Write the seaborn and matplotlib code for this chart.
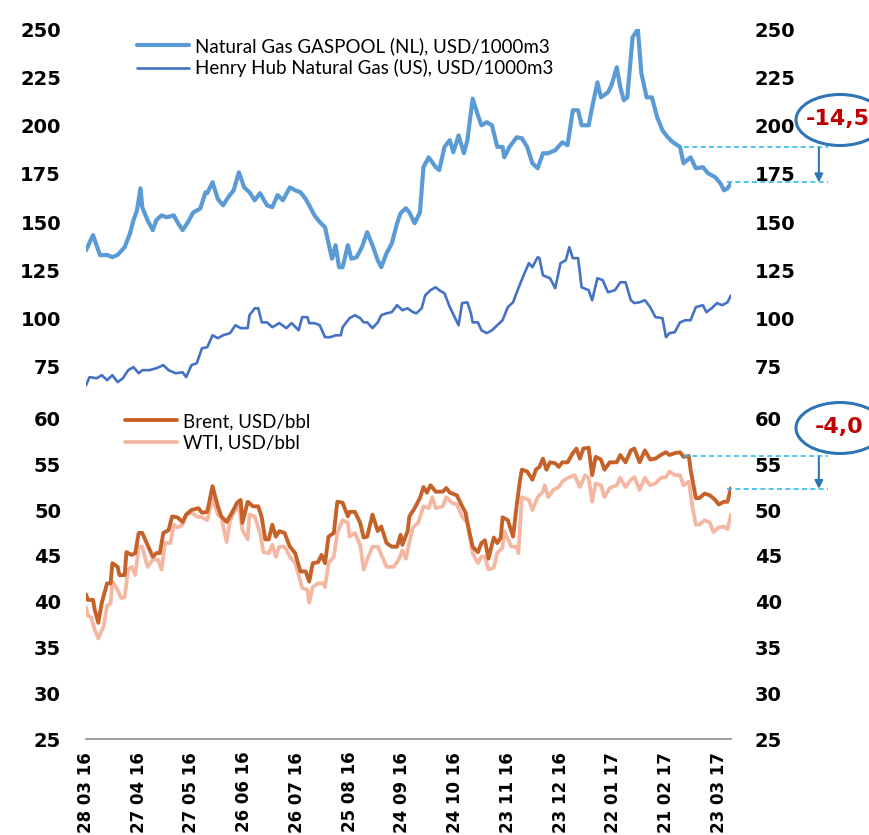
import numpy as np
import pandas as pd
import matplotlib
matplotlib.use("Agg")
import matplotlib.pyplot as plt
import matplotlib.dates as mdates
from matplotlib.patches import Ellipse
import seaborn as sns

# ---------------- data (days since 28 Mar 2016, values) ----------------
START = "2016-03-28"

gaspool_day = [0, 4, 6, 8, 12, 15, 18, 22, 25, 27, 29, 31, 32, 35, 38, 40, 43, 46, 50, 52, 55, 58, 61, 65, 68, 69,
               72, 75, 78, 81, 84, 87, 90, 93, 96, 99, 103, 106, 109, 112, 116, 119, 122, 125, 127, 130, 133, 136,
               138, 140, 142, 144, 146, 149, 151, 154, 157, 160, 163, 166, 168, 171, 174, 177, 179, 182, 184, 187,
               190, 192, 195, 199, 201, 204, 207, 209, 212, 215, 217, 220, 223, 225, 228, 231, 234, 237, 238, 241,
               245, 248, 251, 254, 257, 260, 263, 267, 271, 274, 277, 280, 282, 286, 288, 291, 293, 297, 299, 302,
               304, 306, 308, 311, 314, 316, 319, 322, 325, 328, 331, 334, 338, 340, 344, 347, 351, 354, 358, 361,
               363, 365, 367]
gaspool_val = [135.4, 143.2, 138, 132.8, 133, 131.8, 133, 137, 144, 151, 156, 167.5, 157.7, 151, 145.8, 151, 153.5,
               152.5, 153.5, 150, 145.8, 150, 155, 157, 165.5, 165, 170.7, 162, 158.7, 163, 166.5, 175.8, 168, 165.5,
               161.3, 165, 158.7, 157.7, 164, 161.3, 168, 166.5, 165.5, 162, 158.7, 153.5, 150, 147.3, 139, 131, 138,
               126.6, 126.6, 138, 131, 131.8, 137, 144.8, 138, 130.2, 126.6, 133.8, 139, 149.4, 154.6, 157.2, 155,
               149.4, 155, 178.5, 183.6, 178.5, 177, 189, 192.5, 186.2, 195, 185.7, 192.5, 214, 205.4, 200.2, 201.8,
               200.2, 189, 189, 183.6, 189, 194, 193.5, 189, 180.5, 177.9, 185.7, 185.7, 187.3, 191.4, 189.9, 208, 208,
               200.2, 200.2, 209.6, 222.5, 214.7, 217.3, 221, 230.3, 220, 213.2, 214.7, 245.9, 250, 227.2, 214.7,
               214.7, 204.4, 197.6, 194, 191.4, 189, 180.5, 183.6, 177.9, 178.5, 175.3, 173.3, 170.1, 166.5, 167.5,
               170.1]

henry_day = [0, 2, 6, 9, 12, 15, 18, 21, 24, 27, 30, 32, 36, 40, 44, 47, 51, 55, 57, 60, 63, 66, 69, 72, 75, 78, 82,
             85, 88, 92, 93, 96, 98, 100, 103, 106, 110, 114, 117, 121, 123, 126, 127, 130, 133, 136, 139, 142, 145,
             146, 150, 153, 156, 158, 160, 163, 166, 168, 171, 174, 177, 180, 183, 186, 188, 191, 193, 196, 199, 201,
             204, 207, 210, 212, 214, 217, 219, 220, 223, 225, 228, 231, 234, 237, 240, 243, 246, 249, 252, 254, 257,
             258, 260, 264, 267, 270, 273, 275, 277, 280, 282, 286, 288, 291, 294, 297, 301, 304, 307, 310, 312, 315,
             318, 321, 324, 328, 330, 332, 335, 338, 341, 344, 347, 351, 353, 356, 359, 362, 365, 367]
henry_val = [65.4, 69.6, 69, 70.6, 68, 70.6, 67, 69, 73.2, 74.8, 71.6, 73.2, 73.2, 74.2, 75.8, 73.2, 71.6, 72.1, 69.6,
             75.8, 76.8, 84.6, 85.1, 91.3, 89.8, 91.3, 92.4, 96.5, 95, 95, 101.7, 105.3, 105.3, 98, 98, 95.5, 97.6, 95,
             97.6, 93.9, 100.7, 100.7, 97.6, 97.6, 96.5, 90.3, 90.3, 91.3, 91.3, 95.5, 100.2, 101.7, 100.2, 98, 98, 95,
             98, 101.7, 102.7, 103.3, 106.9, 104.3, 105.3, 103.3, 102.7, 105.3, 112, 114.7, 116.2, 114.7, 113, 105.9,
             100.2, 96.5, 108, 108.4, 102.7, 98, 98, 93.9, 92.4, 93.9, 96.5, 99.1, 105.9, 108.4, 115.7, 122.4, 128.7,
             126.6, 131.8, 131.3, 122.4, 120.9, 115.7, 128.7, 130.2, 137, 131.3, 131.3, 116.2, 114.7, 109.5, 120.9,
             119.9, 113.6, 114.7, 118.8, 118.8, 109.5, 108, 108.4, 109.5, 105.9, 100.7, 100.2, 90.3, 92.4, 92.9, 98,
             99.1, 99.1, 105.9, 106.9, 103.3, 105.3, 108, 106.9, 108.4, 112]

brent_day = [0, 1, 4, 5, 7, 9, 12, 14, 15, 18, 19, 22, 23, 26, 28, 30, 32, 35, 38, 40, 42, 44, 47, 49, 52, 55, 57, 60,
             64, 66, 69, 72, 75, 77, 80, 83, 86, 88, 89, 92, 95, 98, 100, 102, 104, 106, 108, 110, 113, 116, 119, 122,
             125, 127, 129, 132, 134, 136, 138, 141, 143, 146, 149, 150, 153, 156, 158, 160, 163, 166, 168, 171, 174,
             177, 179, 180, 183, 184, 187, 190, 192, 194, 196, 199, 203, 205, 207, 211, 213, 216, 217, 220, 223, 225,
             227, 229, 232, 234, 236, 237, 240, 243, 245, 247, 248, 251, 254, 256, 258, 260, 262, 264, 267, 269, 271,
             274, 277, 279, 281, 283, 286, 288, 290, 293, 295, 298, 302, 304, 307, 310, 312, 315, 318, 321, 324, 327,
             330, 332, 335, 338, 340, 343, 344, 347, 349, 352, 355, 358, 360, 363, 365, 367]
brent_val = [40.8, 40.2, 40.2, 39.1, 37.7, 39.9, 42.0, 42.0, 44.2, 43.8, 42.9, 42.9, 45.4, 45.1, 45.3, 47.5, 47.5, 46.2,
             44.9, 45.3, 45.3, 47.5, 47.8, 49.3, 49.2, 48.7, 49.5, 50.0, 50.2, 49.7, 49.8, 52.6, 50.4, 49.3, 48.7, 49.7,
             50.8, 51.1, 48.6, 50.9, 50.4, 50.4, 49.2, 46.8, 46.8, 48.4, 47.1, 47.7, 47.5, 46.0, 45.3, 43.3, 43.3, 42.2,
             44.2, 44.3, 45.1, 44.2, 47.1, 47.5, 50.9, 50.8, 49.3, 49.8, 49.8, 48.6, 47.0, 47.1, 49.5, 47.7, 48.2, 46.4,
             46.0, 46.0, 47.3, 46.2, 47.7, 49.3, 50.2, 51.3, 52.5, 51.9, 52.7, 52.0, 52.0, 52.4, 51.9, 51.6, 50.8, 49.7,
             48.6, 46.0, 45.4, 46.4, 46.7, 44.7, 47.0, 46.4, 47.0, 49.2, 48.9, 47.1, 50.4, 53.3, 54.4, 54.2, 53.3, 54.4,
             54.7, 55.6, 54.4, 55.2, 55.1, 54.7, 55.2, 55.2, 56.2, 56.7, 55.6, 56.7, 56.8, 53.8, 55.8, 55.5, 54.4, 55.2,
             55.2, 56.0, 55.2, 56.5, 56.7, 55.2, 56.5, 55.5, 55.6, 56.0, 56.3, 56.0, 56.2, 56.3, 55.8, 55.9, 54.4, 51.3,
             51.3, 51.8, 51.6, 51.1, 50.6, 50.9, 50.9, 52.4]

wti_day = [0, 1, 3, 5, 7, 10, 12, 14, 15, 18, 20, 22, 24, 26, 28, 30, 32, 35, 38, 41, 43, 45, 48, 50, 52, 55, 57, 60, 63,
           66, 69, 72, 75, 77, 80, 82, 85, 87, 89, 92, 93, 96, 99, 101, 104, 106, 108, 110, 113, 116, 119, 121, 123,
           126, 127, 129, 132, 135, 136, 138, 141, 143, 146, 149, 150, 153, 156, 158, 160, 163, 166, 169, 171, 175,
           178, 180, 182, 183, 186, 189, 192, 195, 197, 199, 203, 205, 208, 211, 214, 217, 220, 223, 225, 227, 229,
           232, 234, 237, 238, 242, 245, 246, 248, 252, 254, 257, 260, 261, 263, 266, 269, 271, 274, 278, 281, 284,
           286, 288, 290, 293, 295, 298, 302, 304, 307, 310, 312, 315, 318, 321, 324, 327, 330, 332, 335, 338, 340,
           343, 345, 347, 349, 352, 355, 357, 360, 363, 365, 367]
wti_val = [39.4, 38.5, 38.3, 36.9, 36.0, 37.3, 39.6, 39.8, 42.2, 41.3, 40.4, 40.5, 43.5, 43.8, 42.9, 46.0, 46.0, 43.8,
           44.6, 44.6, 43.5, 46.4, 46.4, 48.4, 48.1, 48.4, 49.5, 49.7, 49.3, 49.2, 48.9, 51.3, 49.5, 49.2, 46.5, 48.9,
           50.0, 50.4, 47.8, 46.8, 49.5, 49.3, 47.5, 45.4, 45.3, 46.2, 44.9, 46.0, 46.0, 44.9, 44.2, 42.9, 41.5, 41.3,
           39.9, 41.6, 42.0, 42.0, 41.6, 44.2, 44.9, 47.5, 48.9, 48.6, 47.1, 47.5, 46.2, 43.5, 44.6, 46.0, 46.0, 44.7,
           43.8, 43.8, 44.6, 45.6, 44.7, 45.6, 48.1, 48.6, 50.4, 50.2, 51.4, 50.2, 50.4, 51.4, 50.8, 50.6, 49.3, 48.6,
           45.3, 44.2, 44.9, 44.9, 43.5, 43.7, 45.3, 45.9, 47.7, 46.0, 46.0, 45.3, 51.4, 51.1, 50.0, 51.4, 52.0, 52.7,
           51.4, 52.2, 52.5, 53.1, 53.5, 53.8, 52.5, 53.8, 53.5, 50.9, 52.9, 52.7, 51.4, 52.4, 52.7, 53.5, 52.5, 53.3,
           53.6, 52.2, 53.5, 52.7, 52.9, 53.5, 53.6, 54.2, 53.8, 53.8, 52.7, 53.1, 50.4, 48.4, 48.4, 48.9, 48.6, 47.6,
           48.1, 48.2, 47.9, 49.5]

gas_labels = ["Natural Gas GASPOOL (NL), USD/1000m3", "Henry Hub Natural Gas (US), USD/1000m3"]
oil_labels = ["Brent, USD/bbl", "WTI, USD/bbl"]
gas_ticks = [75, 100, 125, 150, 175, 200, 225, 250]
oil_ticks = [25, 30, 35, 40, 45, 50, 55, 60]

# annotation data: reference level, last level, change shown
gas_ref, gas_last, gas_change = 189.0, 170.6, "-14,5"
oil_ref, oil_last, oil_change = 55.9, 52.3, "-4,0"
ref_day = 340  # date from which the reference level is drawn
last_day = 365

# ---------------- styling ----------------
sns.set_style("white")
plt.rcParams["font.family"] = ["Lato", "DejaVu Sans"]
plt.rcParams["text.color"] = "black"
plt.rcParams["xtick.color"] = "black"
plt.rcParams["ytick.color"] = "black"
BOLD = ["DejaVu Sans"]

C_GAS = "#5B9BD5"
C_HH = "#4472C4"
C_BRENT = "#C5622A"
C_WTI = "#F5B7A1"
C_DASH = "#33BBEE"
C_ANN = "#2E75B6"
C_RED = "#C00000"

W, H = 870, 835
fig = plt.figure(figsize=(W / 100, H / 100), dpi=100)

def fx(px):
    return px / W

def fy(py):
    return 1 - py / H

ax_l, ax_r = 86, 731
ax_top = fig.add_axes([fx(ax_l), fy(390.8), fx(ax_r - ax_l), (390.8 - 29.3) / H])
ax_bot = fig.add_axes([fx(ax_l), fy(739.3), fx(ax_r - ax_l), (739.3 - 418.3) / H])

start = pd.Timestamp(START)

def to_dates(days):
    return start + pd.to_timedelta(np.array(days), unit="D")

sns.lineplot(x=to_dates(gaspool_day), y=gaspool_val, ax=ax_top, color=C_GAS, linewidth=3.0, label=gas_labels[0])
sns.lineplot(x=to_dates(henry_day), y=henry_val, ax=ax_top, color=C_HH, linewidth=1.9, label=gas_labels[1])
sns.lineplot(x=to_dates(brent_day), y=brent_val, ax=ax_bot, color=C_BRENT, linewidth=2.8, label=oil_labels[0])
sns.lineplot(x=to_dates(wti_day), y=wti_val, ax=ax_bot, color=C_WTI, linewidth=2.7, label=oil_labels[1])
ax_bot.lines[0].set_zorder(3)

xmin, xmax = start, start + pd.Timedelta(days=367)
tick_dates = [start + pd.Timedelta(days=30 * k) for k in range(13)]

for ax, lim, ticks in [(ax_top, (62.5, 250), gas_ticks), (ax_bot, (25, 60), oil_ticks)]:
    ax.set_xlim(xmin, xmax)
    ax.set_ylim(*lim)
    ax.set_yticks(ticks)
    ax.set_yticklabels([str(t) for t in ticks], fontsize=14, fontweight="bold", family=BOLD, color="black")
    ax.tick_params(axis="y", length=0, pad=18)
    ax.set_xlabel("")
    ax.set_ylabel("")
    for s in ["top", "right", "left", "bottom"]:
        ax.spines[s].set_visible(False)
    ax.patch.set_alpha(0)
    tw = ax.twinx()
    tw.set_ylim(*lim)
    tw.set_yticks(ticks)
    tw.set_yticklabels([str(t) for t in ticks], fontsize=14, fontweight="bold", family=BOLD, color="black")
    tw.tick_params(axis="y", length=0, pad=17)
    for s in ["top", "right", "left", "bottom"]:
        tw.spines[s].set_visible(False)

ax_top.set_xticks([])
ax_bot.spines["bottom"].set_visible(True)
ax_bot.spines["bottom"].set_color("#8C8C8C")
ax_bot.spines["bottom"].set_linewidth(1.2)
ax_bot.set_xticks(tick_dates)
ax_bot.xaxis.set_major_formatter(mdates.DateFormatter("%d %m %y"))
ax_bot.tick_params(axis="x", direction="out", length=5, width=1.2, color="#8C8C8C", pad=4)
for lbl in ax_bot.get_xticklabels():
    lbl.set_rotation(90)
    lbl.set_fontsize(12)
    lbl.set_fontweight("bold")
    lbl.set_family(BOLD)
    lbl.set_color("black")
    lbl.set_va("top")
    lbl.set_ha("center")

# legends
leg_kw = dict(frameon=False, fontsize=13.5, handlelength=2.8, handletextpad=0.3, labelspacing=0.22,
              borderpad=0, borderaxespad=0, bbox_transform=fig.transFigure, loc="upper left")
leg1 = ax_top.legend(bbox_to_anchor=(fx(137), fy(37)), **leg_kw)
leg2 = ax_bot.legend(bbox_to_anchor=(fx(125), fy(413)), **leg_kw)
for leg in (leg1, leg2):
    for t in leg.get_texts():
        t.set_color("black")

# annotations (dashed levels, arrow, ellipse with change)
ext_day = 422
arrow_day = 417
for ax, ref, last in [(ax_top, gas_ref, gas_last), (ax_bot, oil_ref, oil_last)]:
    ax.plot(to_dates([ref_day, ext_day]), [ref, ref], ls=(0, (3, 2)), color=C_DASH, lw=1.2, clip_on=False, zorder=5)
    ax.plot(to_dates([last_day, ext_day]), [last, last], ls=(0, (3, 2)), color=C_DASH, lw=1.2, clip_on=False, zorder=5)
    ad = to_dates([arrow_day])[0]
    ax.annotate("", xy=(ad, last), xytext=(ad, ref), annotation_clip=False,
                arrowprops=dict(arrowstyle="-|>", color=C_ANN, lw=1.5, mutation_scale=12, shrinkA=0, shrinkB=0))

for (cx, cy, txt, tx) in [(840, 120, gas_change, 806), (840, 428, oil_change, 815)]:
    e = Ellipse((fx(cx), fy(cy)), width=88 / W, height=51 / H, transform=fig.transFigure,
                fill=False, edgecolor=C_ANN, lw=2.2)
    fig.add_artist(e)
    fig.text(fx(tx), fy(cy - 1), txt, color=C_RED, fontsize=16, fontweight="bold", family=BOLD,
             ha="left", va="center")

fig.savefig("out.png", dpi=100)
